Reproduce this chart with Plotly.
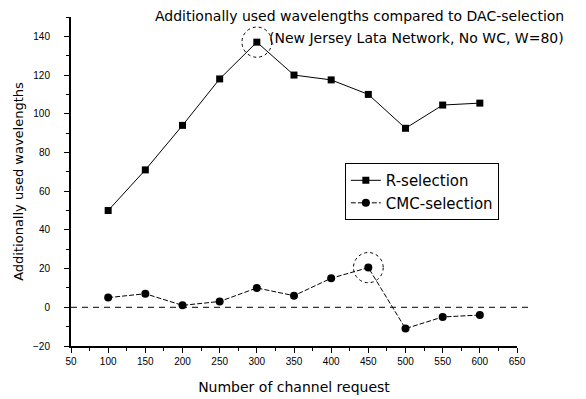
import plotly.graph_objects as go

requests = [100, 150, 200, 250, 300, 350, 400, 450, 500, 550, 600]
r_selection = [50, 71, 94, 118, 137, 120, 117.5, 110, 92.5, 104.5, 105.5]
cmc_selection = [5, 7, 1, 3, 10, 6, 15, 20.5, -11, -5, -4]
x_ticks = [50, 100, 150, 200, 250, 300, 350, 400, 450, 500, 550, 600, 650]
y_ticks = [-20, 0, 20, 40, 60, 80, 100, 120, 140]
highlights = [(300, 137), (450, 20.5)]

TXT = "DejaVu Sans, Arial, sans-serif"

fig = go.Figure()
fig.add_trace(go.Scatter(x=requests, y=r_selection, name="R-selection",
                         mode="lines+markers",
                         line=dict(color="black", width=1),
                         marker=dict(symbol="square", size=7, color="black")))
fig.add_trace(go.Scatter(x=requests, y=cmc_selection, name="CMC-selection",
                         mode="lines+markers",
                         line=dict(color="black", width=1, dash="5px,2px"),
                         marker=dict(symbol="circle", size=8, color="black")))

# zero reference line
fig.add_shape(type="line", xref="paper", yref="y", x0=0, x1=1.025, y0=0, y1=0,
              line=dict(color="black", width=1, dash="6px,5px"))
# dotted highlight circles
for hx, hy in highlights:
    fig.add_shape(type="circle", xref="x", yref="y",
                  x0=hx - 20, x1=hx + 20, y0=hy - 7.8, y1=hy + 7.8,
                  line=dict(color="black", width=1, dash="dot"))

fig.add_annotation(text="Additionally used wavelengths compared to DAC-selection",
                   xref="paper", yref="paper", x=1.11, y=1.003, xanchor="right", yanchor="middle",
                   showarrow=False, font=dict(size=14, color="black", family=TXT))
fig.add_annotation(text="(New Jersey Lata Network, No WC, W=80)",
                   xref="paper", yref="paper", x=1.11, y=0.935, xanchor="right", yanchor="middle",
                   showarrow=False, font=dict(size=14, color="black", family=TXT))

fig.update_layout(
    width=586, height=399,
    margin=dict(l=71, r=69, t=17, b=53),
    paper_bgcolor="white", plot_bgcolor="white",
    font=dict(family=TXT, color="black"),
    showlegend=True,
    legend=dict(x=0.614, y=0.556, xanchor="left", yanchor="top",
                bordercolor="black", borderwidth=1, bgcolor="white",
                font=dict(size=15, family=TXT), tracegroupgap=0, itemwidth=30),
    xaxis=dict(range=[50, 650], tickvals=x_ticks, showgrid=False, zeroline=False,
               automargin=False,
               showline=True, linecolor="black", linewidth=2,
               ticks="outside", ticklen=5, tickcolor="black", tickwidth=1,
               minor=dict(dtick=25, ticks="outside", ticklen=3, tickcolor="black"),
               tickfont=dict(size=10, family="Arial Black, Arial, sans-serif"),
               title=dict(text="Number of channel request", font=dict(size=14, family=TXT), standoff=16)),
    yaxis=dict(range=[-20, 150], tickvals=y_ticks, showgrid=False, zeroline=False,
               automargin=False,
               showline=True, linecolor="black", linewidth=2,
               ticks="outside", ticklen=5, tickcolor="black", tickwidth=1,
               ticklabelstandoff=12,
               minor=dict(dtick=10, ticks="outside", ticklen=3, tickcolor="black"),
               tickfont=dict(size=10, family="Arial Black, Arial, sans-serif"),
               title=dict(text="Additionally used wavelengths", font=dict(size=13, family=TXT), standoff=6)),
)

fig.write_html("out.html")
